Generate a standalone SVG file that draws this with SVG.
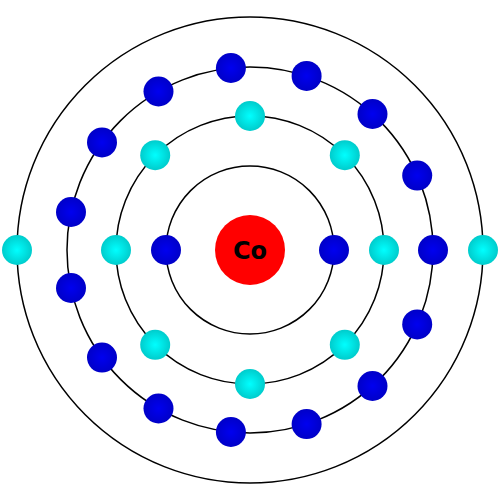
<svg xmlns="http://www.w3.org/2000/svg" width="500" height="500" viewBox="0 0 500 500">
<style>
.shell{fill:none;stroke:#000;stroke-width:1.5}
.eb{fill:url(#gb)}
.ec{fill:url(#gc)}
</style>
<defs>
<radialGradient id="gb" cx="0.5" cy="0.5" r="0.5">
<stop offset="0" stop-color="#0000f0"/>
<stop offset="1" stop-color="#0000c8"/>
</radialGradient>
<radialGradient id="gc" cx="0.5" cy="0.5" r="0.5">
<stop offset="0" stop-color="#00ffff"/>
<stop offset="1" stop-color="#00cccc"/>
</radialGradient>
</defs>
<rect width="500" height="500" fill="#fff"/>
<g id="shells">
<circle class="shell" cx="250" cy="250" r="84"/>
<circle class="shell" cx="250" cy="250" r="134"/>
<circle class="shell" cx="250" cy="250" r="183"/>
<circle class="shell" cx="250" cy="250" r="233"/>
</g>
<g id="nucleus">
<circle cx="250" cy="250" r="35" fill="#ff0000"/>
<text x="250" y="258.5" text-anchor="middle" font-family="DejaVu Sans, sans-serif" font-weight="bold" font-size="24" fill="#000">Co</text>
</g>
<g id="shell1">
<circle class="eb" cx="166" cy="250" r="15"/>
<circle class="eb" cx="334" cy="250" r="15"/>
</g>
<g id="shell2">
<circle class="ec" cx="384" cy="250" r="15"/>
<circle class="ec" cx="344.8" cy="155.2" r="15"/>
<circle class="ec" cx="250" cy="116" r="15"/>
<circle class="ec" cx="155.2" cy="155.2" r="15"/>
<circle class="ec" cx="116" cy="250" r="15"/>
<circle class="ec" cx="155.2" cy="344.8" r="15"/>
<circle class="ec" cx="250" cy="384" r="15"/>
<circle class="ec" cx="344.8" cy="344.8" r="15"/>
</g>
<g id="shell3">
<circle class="eb" cx="433" cy="250" r="15"/>
<circle class="eb" cx="417.2" cy="175.6" r="15"/>
<circle class="eb" cx="372.5" cy="114" r="15"/>
<circle class="eb" cx="306.6" cy="75.9" r="15"/>
<circle class="eb" cx="230.9" cy="68" r="15"/>
<circle class="eb" cx="158.5" cy="91.5" r="15"/>
<circle class="eb" cx="102" cy="142.4" r="15"/>
<circle class="eb" cx="71" cy="212" r="15"/>
<circle class="eb" cx="71" cy="288" r="15"/>
<circle class="eb" cx="102" cy="357.6" r="15"/>
<circle class="eb" cx="158.5" cy="408.5" r="15"/>
<circle class="eb" cx="230.9" cy="432" r="15"/>
<circle class="eb" cx="306.6" cy="424.1" r="15"/>
<circle class="eb" cx="372.5" cy="386" r="15"/>
<circle class="eb" cx="417.2" cy="324.4" r="15"/>
</g>
<g id="shell4">
<circle class="ec" cx="483" cy="250" r="15"/>
<circle class="ec" cx="17" cy="250" r="15"/>
</g>
</svg>
